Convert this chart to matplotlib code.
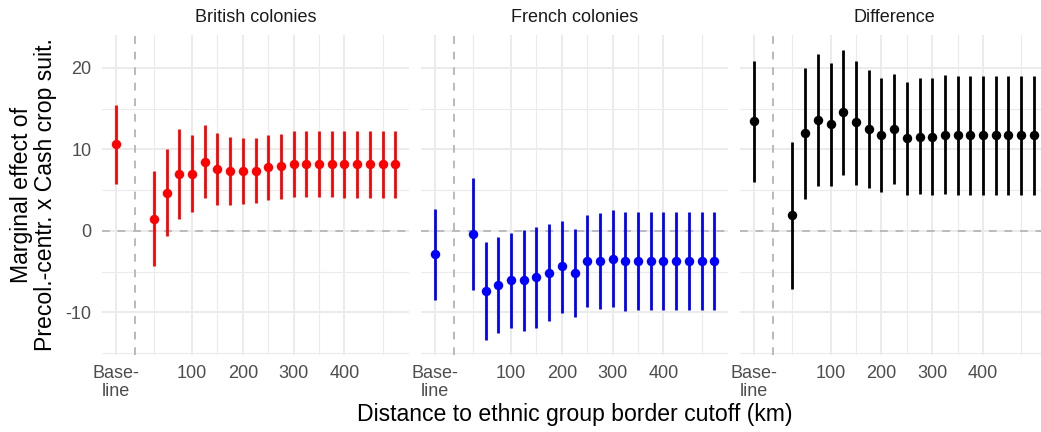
import matplotlib
matplotlib.use('Agg')
import matplotlib.pyplot as plt
import numpy as np

plt.rcParams['font.family'] = ['Liberation Sans', 'DejaVu Sans']
plt.rcParams['axes.unicode_minus'] = False

# data
distances = [25, 50, 75, 100, 125, 150, 175, 200, 225, 250,
             275, 300, 325, 350, 375, 400, 425, 450, 475, 500]
panel_titles = ['British colonies', 'French colonies', 'Difference']
panel_colors = ['#FF0000', '#0000FF', '#000000']

british_base = [10.6, 5.7, 15.4]  # est, lo, hi
british_est = [1.5, 4.7, 7.0, 7.0, 8.5, 7.6, 7.3, 7.4, 7.4, 7.8,
               7.9, 8.2, 8.2, 8.2, 8.2, 8.2, 8.2, 8.2, 8.2, 8.2]
british_lo = [-4.3, -0.6, 1.5, 2.25, 4.05, 3.2, 3.2, 3.35, 3.45, 3.8,
              3.9, 4.15, 4.15, 4.1, 4.1, 4.05, 4.05, 4.05, 4.05, 4.05]
british_hi = [7.3, 10.0, 12.45, 11.8, 12.95, 11.95, 11.5, 11.45, 11.4, 11.75,
              11.85, 12.2, 12.25, 12.2, 12.2, 12.2, 12.2, 12.2, 12.2, 12.2]

french_base = [-2.9, -8.5, 2.65]
french_est = [-0.4, -7.35, -6.7, -6.05, -6.05, -5.7, -5.2, -4.35, -5.2, -3.65,
              -3.65, -3.4, -3.65, -3.65, -3.65, -3.65, -3.65, -3.65, -3.65, -3.65]
french_lo = [-7.25, -13.4, -12.6, -11.9, -12.3, -11.9, -11.05, -10.05, -10.6, -9.35,
             -9.6, -9.35, -9.8, -9.7, -9.7, -9.7, -9.7, -9.7, -9.7, -9.7]
french_hi = [6.5, -1.35, -0.8, -0.25, 0.1, 0.45, 0.8, 1.25, 0.25, 2.0,
             2.15, 2.55, 2.35, 2.35, 2.35, 2.35, 2.35, 2.35, 2.35, 2.35]

diff_base = [13.5, 6.0, 20.85]
diff_est = [1.9, 12.0, 13.6, 13.05, 14.55, 13.3, 12.45, 11.75, 12.5, 11.4,
            11.55, 11.55, 11.8, 11.75, 11.75, 11.75, 11.75, 11.75, 11.75, 11.75]
diff_lo = [-7.1, 3.95, 5.5, 5.45, 6.85, 5.65, 5.2, 4.8, 5.75, 4.45,
           4.55, 4.35, 4.55, 4.45, 4.45, 4.45, 4.45, 4.45, 4.45, 4.45]
diff_hi = [10.9, 20.0, 21.75, 20.65, 22.25, 20.85, 19.7, 18.7, 19.3, 18.3,
           18.7, 18.7, 19.15, 19.05, 18.95, 18.95, 18.95, 18.95, 18.95, 18.95]

x_tick_vals = [-50, 100, 200, 300, 400]
x_tick_labels = ['Base-\nline', '100', '200', '300', '400']
x_minor = [25, 150, 250, 350, 475]
y_tick_vals = [-10, 0, 10, 20]
y_minor = [-15, -5, 5, 15]

# layout constants
BASE_X = -50
CUT_X = -12.5
GRID = '#EBEBEB'
DASH = '#BABABA'

panels = [
    (british_base, british_est, british_lo, british_hi),
    (french_base, french_est, french_lo, french_hi),
    (diff_base, diff_est, diff_lo, diff_hi),
]

vals = []
for b, e, lo, hi in panels:
    vals += [b[1], b[2]] + lo + hi
ymin, ymax = min(vals), max(vals)
yr = ymax - ymin
ylim = (ymin - 0.05 * yr, ymax + 0.05 * yr)
xr = max(distances) - BASE_X
xlim = (BASE_X - 0.05 * xr, max(distances) + 0.05 * xr)

W, H = 1041, 432
fig = plt.figure(figsize=(W / 100, H / 100), dpi=100)
fig.patch.set_facecolor('white')

lefts = [101.7, 420.7, 740.3]
pw = 307.6
top, bottom = 35.0, 354.5

for i, (b, e, lo, hi) in enumerate(panels):
    ax = fig.add_axes([lefts[i] / W, (H - bottom) / H, pw / W, (bottom - top) / H])
    ax.set_xlim(xlim)
    ax.set_ylim(ylim)
    for s in ax.spines.values():
        s.set_visible(False)

    # grid
    for v in x_tick_vals:
        ax.axvline(v, color=GRID, lw=1.4, zorder=0)
    for v in x_minor:
        ax.axvline(v, color=GRID, lw=0.8, zorder=0)
    for v in y_tick_vals:
        ax.axhline(v, color=GRID, lw=1.4, zorder=0)
    for v in y_minor:
        ax.axhline(v, color=GRID, lw=0.8, zorder=0)

    ax.axhline(0, color=DASH, lw=1.4, dashes=(4, 4), zorder=1)
    ax.axvline(CUT_X, color=DASH, lw=1.4, dashes=(4, 4), zorder=1)

    c = panel_colors[i]
    xs = [BASE_X] + distances
    ests = [b[0]] + e
    los = [b[1]] + lo
    his = [b[2]] + hi
    ax.vlines(xs, los, his, color=c, lw=2.0, zorder=3)
    ax.plot(xs, ests, 'o', color=c, ms=6.8, mec='none', zorder=4)

    ax.set_xticks(x_tick_vals)
    ax.set_xticklabels(x_tick_labels, linespacing=1.12)
    ax.set_yticks(y_tick_vals)
    ax.tick_params(length=0, labelsize=13, labelcolor='#4D4D4D')
    ax.tick_params(axis='x', pad=7.5)
    ax.tick_params(axis='y', pad=7.5)
    if i > 0:
        ax.set_yticklabels([])

    ax.text(0.5, 1.056, panel_titles[i], transform=ax.transAxes,
            ha='center', va='center', fontsize=13, color='#1A1A1A')

fig.text(574.9 / W, 1 - 415 / H, 'Distance to ethnic group border cutoff (km)',
         ha='center', va='center', fontsize=16.6)
fig.text(33.5 / W, 1 - 194.7 / H, 'Marginal effect of\nPrecol.-centr. x Cash crop suit.',
         ha='center', va='center', rotation=90, fontsize=16.6, linespacing=1.08,
         multialignment='center')

fig.savefig('out.png', dpi=100, facecolor='white')
